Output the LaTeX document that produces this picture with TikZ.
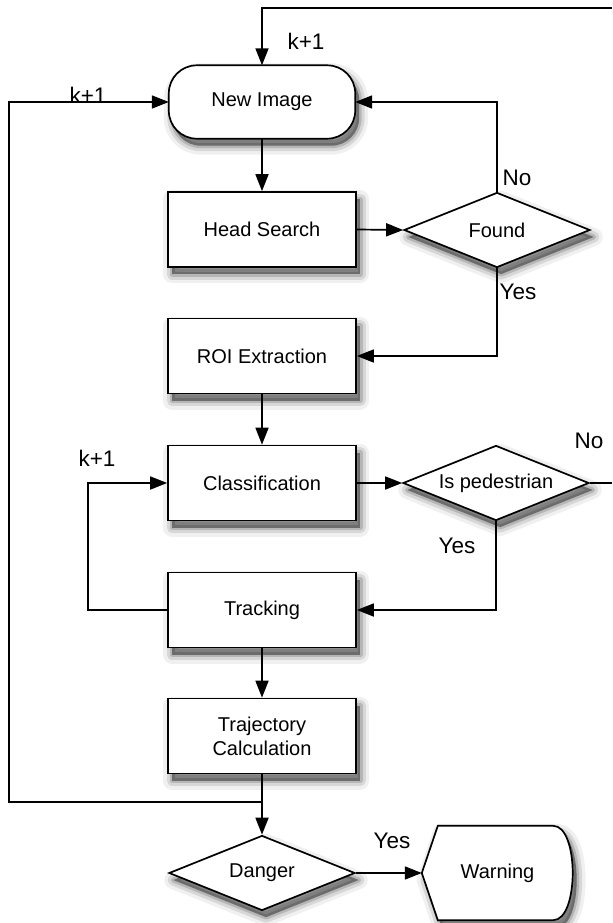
\documentclass[tikz,border=0pt]{standalone}
\usepackage{fontspec}
\setmainfont{Liberation Sans}
\usetikzlibrary{arrows.meta,shapes.geometric,backgrounds}
\begin{document}
\begin{tikzpicture}[x=1pt,y=-1pt,
  shd/.style={
    preaction={draw=black, line width=18pt, line join=round, draw opacity=0.06, fill=black, fill opacity=0.15,
      transform canvas={shift={(4pt,-7pt)}}},
    preaction={draw=black, line width=11pt, line join=round, draw opacity=0.10,
      transform canvas={shift={(4pt,-7pt)}}},
    preaction={draw=black, line width=5pt, line join=round, draw opacity=0.15, fill=black, fill opacity=0.3,
      transform canvas={shift={(4pt,-7pt)}}}},
  box/.style={draw, line width=1.7pt, fill=white, minimum width=188pt, minimum height=75pt,
    font=\fontsize{20}{24}\selectfont, align=center, inner sep=0pt, shd},
  dec/.style={diamond, aspect=2.5, draw, line width=1.7pt, fill=white, minimum width=186pt, minimum height=75pt,
    font=\fontsize{20}{24}\selectfont, inner sep=0pt, shd},
  txt/.style={inner sep=0pt, font=\fontsize{20}{24}\selectfont, align=center},
  lab/.style={font=\fontsize{22.5}{26}\selectfont, inner sep=0pt},
  conn/.style={line width=1.7pt},
  arr/.style={conn, -{Triangle[length=17pt,width=13pt]}}]
\begin{scope}[on background layer]
\path[fill=white, use as bounding box] (0,0) rectangle (612,923);
\end{scope}

\node[txt, minimum width=186pt, minimum height=73pt] (ni) at (262,102) {New Image};
\node[box] (hs) at (262,229.5) {Head Search};
\node[box] (roi) at (262,356) {ROI Extraction};
\node[box] (cls) at (262,483) {Classification};
\node[box] (trk) at (262,610) {Tracking};
\node[box] (traj) at (262,736) {Trajectory\\Calculation};
\node[dec] (found) at (497,230) {Found};
\node[dec] (ped) at (496,483) {Is pedestrian};
\node[dec] (dang) at (262,873) {Danger};
\node[txt, minimum width=151pt, minimum height=94pt] (warn) at (497.5,873) {Warning};
\begin{scope}[on background layer]
\path[draw, line width=1.7pt, fill=white, shd]
  (ni.south west) [rounded corners=28pt] rectangle (ni.north east);
\path[draw, line width=1.7pt, fill=white, shd]
  (warn.west) -- ([xshift=16pt]warn.north west) -- ([xshift=-20pt]warn.north east)
  .. controls ([xshift=6pt]warn.north east) and ([xshift=6pt]warn.south east) .. ([xshift=-20pt]warn.south east)
  -- ([xshift=16pt]warn.south west) -- cycle;
\end{scope}

\coordinate (tr) at (612,8);
\coordinate (j) at (262,802);
\coordinate (pr) at (612,483);

\draw[arr] (tr) -| (ni.north);
\draw[arr] (j) -- ++(-253,0) |- (ni.west);
\draw[arr] (found.north) |- (ni.east);
\draw[arr] (ni.south) -- (hs.north);
\draw[arr] (hs.east) -- (found.west);
\draw[arr] (found.south) |- (roi.east);
\draw[arr] (roi.south) -- (cls.north);
\draw[arr] (cls.east) -- (ped.west);
\draw[conn] (ped.east) -- (pr);
\draw[arr] (ped.south) |- (trk.east);
\draw[arr] (trk.west) -- ++(-79,0) |- (cls.west);
\draw[arr] (trk.south) -- (traj.north);
\draw[arr] (traj.south) -- (dang.north);
\draw[arr] (dang.east) -- (warn.west);

\node[lab] (l1) at (306,41) {k+1};
\node[lab] (l2) at (88,95) {k+1};
\node[lab] (l3) at (517,178) {No};
\node[lab] (l4) at (518,292) {Yes};
\node[lab] (l5) at (589,441) {No};
\node[lab] (l6) at (457,546) {Yes};
\node[lab] (l7) at (97,458) {k+1};
\node[lab] (l8) at (392,841) {Yes};
\end{tikzpicture}
\end{document}
